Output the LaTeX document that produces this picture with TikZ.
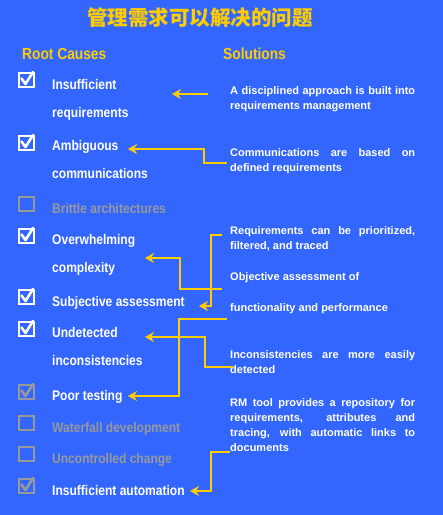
\documentclass[tikz,border=0pt]{standalone}
\usepackage{fontspec}
\setmainfont{Liberation Sans}
\newfontfamily\causefont[FakeStretch=0.86]{Liberation Sans}
\newfontfamily\cjk{Noto Sans CJK SC}
\usetikzlibrary{arrows.meta}
\definecolor{bg}{HTML}{3366FF}
\definecolor{accent}{HTML}{FFCC00}
\definecolor{fg}{HTML}{FFFFFF}
\definecolor{muted}{HTML}{999999}

\begin{document}
\begin{tikzpicture}[
    x=1pt, y=-1pt,
    linkarrow/.style={
        accent,
        line width=2.2pt,
        -{Stealth[length=9pt, width=10pt, inset=3pt]},
    },
    header/.style={accent, anchor=base west, inner sep=0pt,
        font=\causefont\bfseries\fontsize{16}{18}\selectfont},
    cause/.style={fg, anchor=base west, inner sep=0pt, align=left,
        font=\causefont\bfseries\fontsize{14}{28}\selectfont},
    faded/.style={cause, muted},
    solution/.style={fg, anchor=base west, inner sep=0pt, text width=185pt,
        align=justify, font=\bfseries\fontsize{11}{15}\selectfont},
    tickbox/.style={line width=2.4pt},
    tick/.style={line width=2.6pt, line cap=round, line join=round},
]
\useasboundingbox (0,0) rectangle (443,515);
\fill[bg] (0,0) rectangle (443,515);

% =============================================
% TITLE AND COLUMN HEADERS
% =============================================
\node[accent, font=\cjk\bfseries\fontsize{20.5}{22}\selectfont] (title) at (200,18) {管理需求可以解决的问题};
\node[header] (causes) at (22,59) {Root Causes};
\node[header] (solutions) at (223,59) {Solutions};

% =============================================
% ROOT CAUSES – check boxes
% =============================================
\begin{scope}[fg]
  % Insufficient requirements
  \draw[tickbox] (19.2,73.2) rectangle (33.8,86.8);
  \draw[tick] (21.5,78.5) -- (25.5,84) -- (33,72);
  % Ambiguous communications
  \draw[tickbox] (19.2,136.2) rectangle (33.8,149.8);
  \draw[tick] (21.5,141.5) -- (25.5,147) -- (33,135);
  % Overwhelming complexity
  \draw[tickbox] (19.2,229.2) rectangle (33.8,242.8);
  \draw[tick] (21.5,234.5) -- (25.5,240) -- (33,228);
  % Subjective assessment
  \draw[tickbox] (19.2,290.2) rectangle (33.8,303.8);
  \draw[tick] (21.5,295.5) -- (25.5,301) -- (33,289);
  % Undetected inconsistencies
  \draw[tickbox] (19.2,322.2) rectangle (33.8,335.8);
  \draw[tick] (21.5,327.5) -- (25.5,333) -- (33,321);
\end{scope}

\begin{scope}[muted]
  % Brittle architectures – not addressed
  \draw[tickbox] (19.2,197.2) rectangle (33.8,210.8);
  % Poor testing
  \draw[tickbox] (19.2,385.2) rectangle (33.8,398.8);
  \draw[tick] (21.5,390.5) -- (25.5,396) -- (33,384);
  % Waterfall development – not addressed
  \draw[tickbox] (19.2,416.2) rectangle (33.8,429.8);
  % Uncontrolled change – not addressed
  \draw[tickbox] (19.2,447.2) rectangle (33.8,460.8);
  % Insufficient automation
  \draw[tickbox] (19.2,479.2) rectangle (33.8,492.8);
  \draw[tick] (21.5,484.5) -- (25.5,490) -- (33,478);
\end{scope}

% Root cause labels (two-line ones sit on their second line)
\node[cause] (insuff) at (52,117) {Insufficient\\requirements};
\node[cause] (ambig) at (52,178) {Ambiguous\\communications};
\node[faded] (brittle) at (52,213) {Brittle architectures};
\node[cause] (complex) at (52,272.5) {Overwhelming\\complexity};
\node[cause] (subj) at (52,306.5) {Subjective assessment};
\node[cause] (undet) at (52,365) {Undetected\\inconsistencies};
\node[cause] (testing) at (52,400.5) {Poor testing};
\node[faded] (waterfall) at (52,432) {Waterfall development};
\node[faded] (uncontrolled) at (52,463) {Uncontrolled change};
\node[cause] (automation) at (52,495) {Insufficient automation};

% =============================================
% SOLUTIONS – justified text blocks
% =============================================
\node[solution] (disciplined) at (230,94) {A disciplined approach is built into\linebreak requirements management};
\node[solution] (defined) at (230,156) {Communications are based on\linebreak defined requirements};
\node[solution] (prioritized) at (230,234) {Requirements can be prioritized,\linebreak filtered, and traced};
\node[solution] (objective) at (230,280) {Objective assessment of};
\node[solution] (functionality) at (230,311.5) {functionality and performance};
\node[solution] (easily) at (230,358) {Inconsistencies are more easily\linebreak detected};
\node[solution] (repository) at (230,406) {RM tool provides a repository for\linebreak requirements, attributes and\linebreak tracing, with automatic links to\linebreak documents};

% =============================================
% ARROWS: Solution -> Root cause
% =============================================
\coordinate (disciplined out) at (208,94);
\coordinate (insuff in) at (172,94);
\coordinate (defined out) at (227,163);
\coordinate (ambig in) at (128,149);
\coordinate (functionality out) at (222,289);
\coordinate (complex in) at (145,258);
\coordinate (prioritized out) at (222,235);
\coordinate (subj in) at (199,306);
\coordinate (repository top) at (227,319);
\coordinate (testing in) at (128,396);
\coordinate (easily out) at (233,367);
\coordinate (undet in) at (145,337);
\coordinate (repository out) at (230,452);
\coordinate (automation in) at (190,491);

\draw[linkarrow] (disciplined out) -- (insuff in);
\draw[linkarrow] (defined out) -- ++(-23,0) |- (ambig in);
\draw[linkarrow] (functionality out) -- ++(-42,0) |- (complex in);
\draw[linkarrow] (prioritized out) -- ++(-11,0) |- (subj in);
\draw[linkarrow] (repository top) -- ++(-48,0) |- (testing in);
\draw[linkarrow] (easily out) -- ++(-28,0) |- (undet in);
\draw[linkarrow] (repository out) -- ++(-19,0) |- (automation in);

\end{tikzpicture}
\end{document}
